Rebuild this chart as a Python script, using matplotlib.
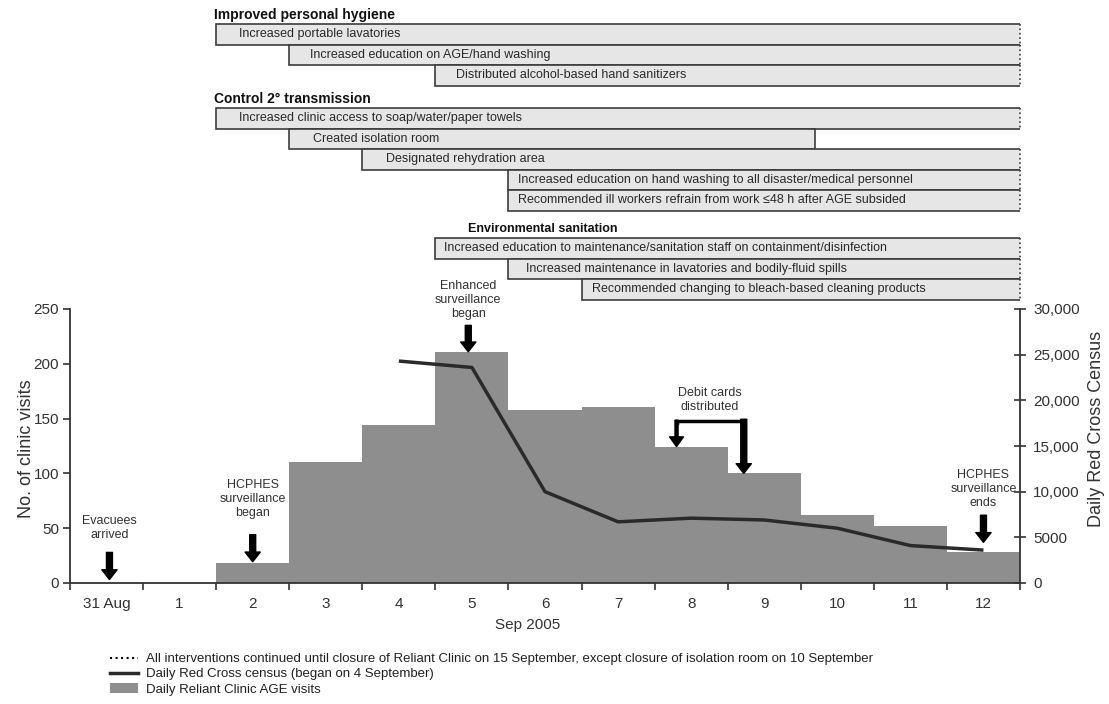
import numpy as np
import matplotlib
matplotlib.use("Agg")
import matplotlib.pyplot as plt
from matplotlib.lines import Line2D
from matplotlib.patches import Patch

plt.rcParams["font.family"] = ["Liberation Sans", "DejaVu Sans"]

# daily clinic visits, 31 Aug .. 12 Sep 2005
days = ["31 Aug", "1", "2", "3", "4", "5", "6", "7", "8", "9", "10", "11", "12"]
visits = [0, 0, 18, 110, 144, 211, 158, 161, 124, 100, 62, 52, 28]

# Red Cross census (began on 4 September)
census_days = [4, 5, 6, 7, 8, 9, 10, 11, 12]
census = [24300, 23600, 10000, 6700, 7100, 6900, 6000, 4100, 3600]

# interventions: start day (index into days), end day (None = ongoing)
hygiene_items = [
    "Increased portable lavatories",
    "Increased education on AGE/hand washing",
    "Distributed alcohol-based hand sanitizers",
]
hygiene_start = [2, 3, 5]
hygiene_end = [None, None, None]

control_items = [
    "Increased clinic access to soap/water/paper towels",
    "Created isolation room",
    "Designated rehydration area",
    "Increased education on hand washing to all disaster/medical personnel",
    "Recommended ill workers refrain from work \u226448 h after AGE subsided",
]
control_start = [2, 3, 4, 6, 6]
control_end = [None, 10.2, None, None, None]

sanitation_items = [
    "Increased education to maintenance/sanitation staff on containment/disinfection",
    "Increased maintenance in lavatories and bodily-fluid spills",
    "Recommended changing to bleach-based cleaning products",
]
sanitation_start = [5, 6, 7]
sanitation_end = [None, None, None]

groups = [
    ("Improved personal hygiene", hygiene_items, hygiene_start, hygiene_end),
    ("Control 2\u00b0 transmission", control_items, control_start, control_end),
    ("Environmental sanitation", sanitation_items, sanitation_start, sanitation_end),
]

# layout (pixels in the top panel)
group_top = [24, 108, 238]
header_x = [1.47, 1.47, 4.95]
header_size = [10, 10, 9]
row_h = 20.5
text_pad = [[23, 21, 21], [23, 24, 24, 10, 10], [9, 18, 10]]

bar_grey = "#8e8e8e"
line_col = "#2a2a2a"
box_fill = "#e6e6e6"
box_edge = "#3c3c3c"
txt = "#2a2a2a"

W, H = 1109, 704
fig = plt.figure(figsize=(W / 100, H / 100), dpi=100)
x0, x1 = 70, 1020
ax = fig.add_axes([x0 / W, 1 - 583 / H, (x1 - x0) / W, 274 / H])
ax_top = fig.add_axes([x0 / W, 1 - 305 / H, (x1 - x0) / W, 305 / H])

# ---- interventions panel
ax_top.set_xlim(-0.5, len(days) - 0.5)
ax_top.set_ylim(305, 0)
ax_top.axis("off")
right_lim = len(days) - 0.5
for g, (title, items, starts, ends) in enumerate(groups):
    top = group_top[g]
    ax_top.text(header_x[g], top - 9, title, fontsize=header_size[g],
                fontweight="bold", va="center", ha="left", color="#111111")
    for r, (item, s, e) in enumerate(zip(items, starts, ends)):
        y0 = top + r * row_h
        left = s - 0.5
        right = e - 0.5 if e is not None else right_lim + 1
        ax_top.barh(y0 + row_h / 2, right - left, left=left, height=row_h,
                    color=box_fill, edgecolor=box_edge, linewidth=1.2)
        if e is None:
            ax_top.vlines(right_lim, y0, y0 + row_h, colors=box_edge,
                          linestyles=":", linewidth=1.2, clip_on=False)
        ax_top.annotate(item, (left, y0 + row_h / 2), xytext=(text_pad[g][r], 0),
                        textcoords="offset pixels", va="center", ha="left",
                        fontsize=9, color=txt)

# ---- main chart
x = np.arange(len(days))
ax.bar(x, visits, width=1.0, color=bar_grey, linewidth=0)
ax.set_xlim(-0.5, len(days) - 0.5)
ax.set_ylim(0, 250)
ax.set_yticks(np.arange(0, 251, 50))
ax.set_xticks(np.arange(-0.5, len(days)), minor=False)
ax.set_xticklabels([])
ax.set_xticks(x, minor=True)
ax.set_xticklabels(days, minor=True)
ax.tick_params(axis="x", which="major", direction="out", length=5, width=1.2, color="#333333")
ax.tick_params(axis="x", which="minor", length=0, pad=10, labelsize=11, labelcolor="#333333")
ax.tick_params(axis="y", direction="out", length=5, width=1.2, color="#333333",
               labelsize=11, labelcolor="#333333", pad=3)
for side in ["left", "bottom"]:
    ax.spines[side].set_linewidth(1.3)
    ax.spines[side].set_color("#333333")
ax.spines["top"].set_visible(False)
ax.spines["right"].set_visible(False)
ax.set_ylabel("No. of clinic visits", fontsize=13, color="#333333")
ax.yaxis.set_label_coords(-35 / (x1 - x0), 0.49)
ax.set_xlabel("Sep 2005", fontsize=11, color="#333333")
ax.xaxis.set_label_coords((528 - x0) / (x1 - x0), -35 / 274)

ax2 = ax.twinx()
ax2.plot(census_days, census, color=line_col, linewidth=2.5, solid_capstyle="butt")
ax2.set_ylim(0, 30000)
ax2.set_yticks(np.arange(0, 30001, 5000))
ax2.set_yticklabels(["0", "5000", "10,000", "15,000", "20,000", "25,000", "30,000"])
ax2.tick_params(axis="y", direction="inout", length=9, width=1.2, color="#333333",
                labelsize=11, labelcolor="#333333", pad=5)
ax2.spines["right"].set_linewidth(1.3)
ax2.spines["right"].set_color("#333333")
for side in ["top", "left", "bottom"]:
    ax2.spines[side].set_visible(False)
ax2.set_ylabel("Daily Red Cross Census", fontsize=13, color="#333333")
ax2.yaxis.set_label_coords(1.072, 0.562)


def down_arrow(axis, xp, yp, length, shaft=4.3, head=11, headlen=7):
    axis.annotate("", xy=(xp, yp), xytext=(0, length), textcoords="offset points",
                  arrowprops=dict(facecolor="black", edgecolor="black", width=shaft,
                                  headwidth=head, headlength=headlen, shrink=0),
                  annotation_clip=False)


def note(axis, xp, yp, offset, label):
    axis.annotate(label, xy=(xp, yp), xytext=(0, offset), textcoords="offset points",
                  ha="center", va="bottom", fontsize=9, color="#333333",
                  linespacing=1.2, annotation_clip=False)


px = 250 / 274  # visits per pixel
# Evacuees arrived
down_arrow(ax, 0.04, visits[0] + 3.5 * px, 19.5)
note(ax, 0.04, visits[0] + 3.5 * px, 28, "Evacuees\narrived")
# HCPHES surveillance began
down_arrow(ax, 2, visits[2] + 1.5 * px, 19.5)
note(ax, 2, visits[2] + 1.5 * px, 31, "HCPHES\nsurveillance\nbegan")
# Enhanced surveillance began
down_arrow(ax, 4.95, visits[5], 19)
note(ax, 4.95, visits[5], 23, "Enhanced\nsurveillance\nbegan")
# Debit cards distributed
bracket_y = visits[8] + 26 * px
left_x, right_x = 7.8, 8.72
ax.plot([left_x, left_x, right_x, right_x],
        [bracket_y - 2 * px, bracket_y, bracket_y, bracket_y - 2 * px],
        color="black", linewidth=2.5, solid_joinstyle="miter")
down_arrow(ax, left_x, visits[8] + 0.5 * px, 19, shaft=2.2, head=10, headlen=7)
down_arrow(ax, right_x, visits[9], 39, shaft=4.3, head=11, headlen=7)
note(ax, (left_x + right_x) / 2, bracket_y, 6, "Debit cards\ndistributed")
# HCPHES surveillance ends
down_arrow(ax, 12, visits[12] + 10 * px, 19.5)
note(ax, 12, visits[12] + 10 * px, 24, "HCPHES\nsurveillance\nends")

# ---- legend
handles = [
    Line2D([], [], color="black", linestyle=":", linewidth=1.5),
    Line2D([], [], color=line_col, linewidth=2.5),
    Patch(facecolor=bar_grey, edgecolor="none"),
]
labels = [
    "All interventions continued until closure of Reliant Clinic on 15 September, "
    "except closure of isolation room on 10 September",
    "Daily Red Cross census (began on 4 September)",
    "Daily Reliant Clinic AGE visits",
]
fig.legend(handles, labels, loc="upper left", bbox_to_anchor=(110 / W, 1 - 653 / H),
           frameon=False, fontsize=9.5, handlelength=2.1, handletextpad=0.65,
           labelspacing=0.22, borderaxespad=0, borderpad=0, labelcolor="#222222")

fig.savefig("out.png", dpi=100)
